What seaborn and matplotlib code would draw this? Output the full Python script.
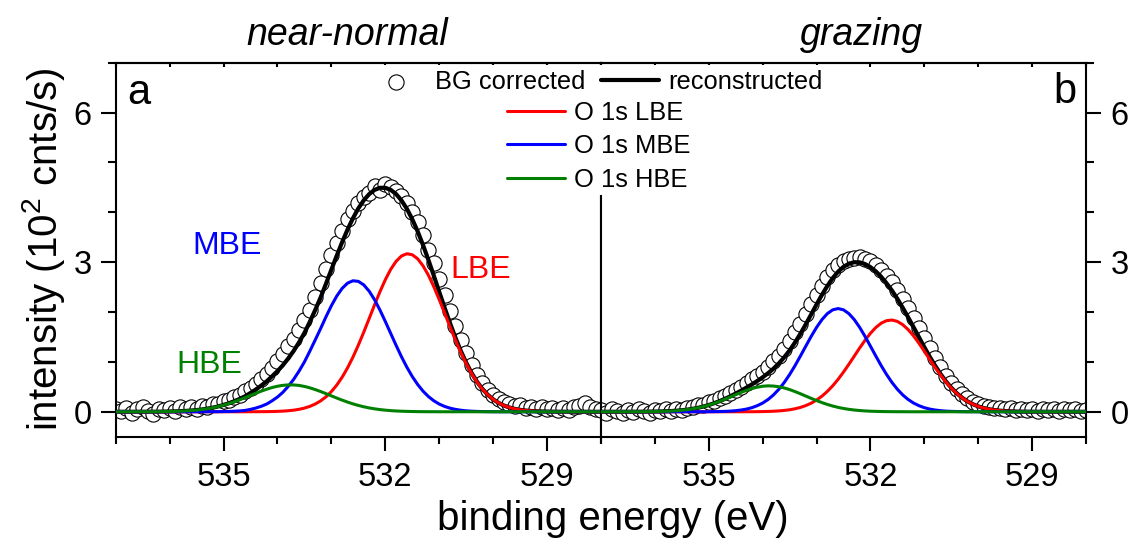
import numpy as np
import pandas as pd
import matplotlib
matplotlib.use("Agg")
import matplotlib.pyplot as plt
import seaborn as sns

# ---------------- data ----------------
# binding-energy grid (eV), 537.0 -> 528.0 in 0.1 eV steps (91 points)
energy = np.round(np.linspace(537.0, 528.0, 91), 1)

# panel a : near-normal
lbe_a = [0] * 25 + [
    0.001, 0.001, 0.002, 0.003, 0.005, 0.008, 0.013, 0.021, 0.032, 0.049,
    0.074, 0.108, 0.155, 0.218, 0.300, 0.405, 0.536, 0.694, 0.881, 1.096,
    1.337, 1.596, 1.868, 2.142, 2.406, 2.648, 2.856, 3.017, 3.124, 3.169,
    3.149, 3.067, 2.926, 2.736, 2.506, 2.249, 1.978, 1.704, 1.439, 1.190,
    0.964, 0.766, 0.596, 0.454, 0.339, 0.248, 0.178, 0.125, 0.086, 0.058,
    0.038, 0.025, 0.016, 0.010, 0.006, 0.004, 0.002, 0.001, 0.001] + [0] * 7
mbe_a = [0] * 17 + [
    0.001, 0.001, 0.002, 0.004, 0.006, 0.011, 0.017, 0.027, 0.048, 0.075,
    0.110, 0.155, 0.220, 0.295, 0.390, 0.510, 0.650, 0.815, 1.000, 1.215,
    1.440, 1.668, 1.905, 2.127, 2.321, 2.475, 2.580, 2.627, 2.615, 2.544,
    2.419, 2.248, 2.041, 1.811, 1.571, 1.332, 1.103, 0.893, 0.707, 0.547,
    0.413, 0.305, 0.220, 0.155, 0.107, 0.072, 0.048, 0.031, 0.019, 0.012,
    0.007, 0.004, 0.002, 0.001] + [0] * 20
hbe_a = [0] * 5 + [
    0.001, 0.001, 0.001, 0.002, 0.004, 0.006, 0.008, 0.012, 0.017, 0.025,
    0.034, 0.046, 0.062, 0.081, 0.105, 0.133, 0.165, 0.201, 0.241, 0.284,
    0.328, 0.371, 0.414, 0.452, 0.486, 0.512, 0.530, 0.539, 0.538, 0.528,
    0.508, 0.480, 0.445, 0.406, 0.363, 0.319, 0.275, 0.233, 0.194, 0.158,
    0.127, 0.100, 0.077, 0.059, 0.044, 0.032, 0.023, 0.016, 0.011, 0.008,
    0.005, 0.003, 0.002, 0.001, 0.001] + [0] * 31
recon_a = [0] * 5 + [
    0.001, 0.001, 0.001, 0.002, 0.004, 0.006, 0.008, 0.012, 0.017, 0.025,
    0.034, 0.046, 0.063, 0.082, 0.107, 0.137, 0.171, 0.212, 0.258, 0.311,
    0.377, 0.447, 0.526, 0.610, 0.711, 0.815, 0.933, 1.070, 1.220, 1.392,
    1.582, 1.803, 2.040, 2.292, 2.568, 2.851, 3.132, 3.402, 3.655, 3.881,
    4.079, 4.240, 4.364, 4.449, 4.491, 4.491, 4.450, 4.365, 4.238, 4.070,
    3.861, 3.617, 3.341, 3.042, 2.727, 2.404, 2.085, 1.776, 1.487, 1.221,
    0.983, 0.778, 0.603, 0.458, 0.341, 0.249, 0.178, 0.125, 0.086, 0.058,
    0.038, 0.025, 0.016, 0.010, 0.006, 0.004, 0.002, 0.001, 0.001] + [0] * 7
data_a = [0.06, 0.02, 0.08, -0.03, 0.05, 0.09, 0.01, -0.04, 0.06, 0.03,
          0.07, 0.02, 0.09, 0.05, 0.10, 0.06, 0.12, 0.10, 0.16, 0.15,
          0.21, 0.23, 0.30, 0.33, 0.41, 0.47, 0.56, 0.66, 0.76, 0.88,
          1.02, 1.15, 1.31, 1.45, 1.64, 1.85, 2.04, 2.30, 2.58, 2.86,
          3.15, 3.38, 3.62, 3.86, 4.02, 4.18, 4.30, 4.38, 4.52, 4.44,
          4.56, 4.50, 4.42, 4.33, 4.18, 4.00, 3.80, 3.55, 3.25, 2.98,
          2.66, 2.35, 2.02, 1.72, 1.43, 1.17, 0.93, 0.74, 0.57, 0.44,
          0.33, 0.25, 0.19, 0.15, 0.11, 0.13, 0.08, 0.10, 0.06, 0.09,
          0.05, 0.08, 0.03, 0.07, 0.04, 0.09, 0.12, 0.18, 0.10, 0.06, 0.04]

# panel b : grazing
lbe_b = [0] * 27 + [
    0.001, 0.001, 0.002, 0.004, 0.007, 0.011, 0.017, 0.027, 0.040, 0.060,
    0.087, 0.124, 0.172, 0.235, 0.313, 0.408, 0.521, 0.651, 0.796, 0.953,
    1.116, 1.279, 1.434, 1.574, 1.690, 1.777, 1.827, 1.840, 1.812, 1.746,
    1.647, 1.521, 1.374, 1.214, 1.050, 0.889, 0.737, 0.597, 0.474, 0.368,
    0.280, 0.208, 0.151, 0.108, 0.075, 0.051, 0.034, 0.022, 0.014, 0.009,
    0.005, 0.003, 0.002, 0.001] + [0] * 10
mbe_b = [0] * 19 + [
    0.001, 0.001, 0.003, 0.005, 0.008, 0.013, 0.022, 0.035, 0.054, 0.082,
    0.122, 0.175, 0.246, 0.337, 0.451, 0.587, 0.746, 0.924, 1.117, 1.315,
    1.511, 1.692, 1.848, 1.968, 2.044, 2.070, 2.044, 1.968, 1.848, 1.692,
    1.511, 1.315, 1.117, 0.924, 0.746, 0.587, 0.451, 0.337, 0.246, 0.175,
    0.122, 0.082, 0.054, 0.035, 0.022, 0.013, 0.008, 0.005, 0.003, 0.001,
    0.001] + [0] * 21
hbe_b = [0] * 6 + [
    0.001, 0.001, 0.002, 0.003, 0.004, 0.006, 0.010, 0.014, 0.021, 0.030,
    0.043, 0.059, 0.079, 0.104, 0.134, 0.169, 0.208, 0.251, 0.297, 0.343,
    0.388, 0.430, 0.466, 0.493, 0.512, 0.520, 0.516, 0.502, 0.478, 0.445,
    0.405, 0.361, 0.315, 0.269, 0.225, 0.184, 0.147, 0.115, 0.088, 0.066,
    0.049, 0.035, 0.025, 0.017, 0.011, 0.008, 0.005, 0.003, 0.002, 0.001,
    0.001] + [0] * 34
recon_b = [0] * 6 + [
    0.001, 0.001, 0.002, 0.003, 0.004, 0.006, 0.010, 0.014, 0.021, 0.030,
    0.043, 0.059, 0.079, 0.105, 0.135, 0.172, 0.213, 0.259, 0.310, 0.365,
    0.423, 0.485, 0.549, 0.617, 0.691, 0.773, 0.864, 0.970, 1.092, 1.231,
    1.389, 1.565, 1.754, 1.952, 2.152, 2.345, 2.523, 2.680, 2.809, 2.906,
    2.970, 2.999, 2.996, 2.962, 2.900, 2.815, 2.706, 2.576, 2.429, 2.264,
    2.084, 1.893, 1.696, 1.496, 1.296, 1.104, 0.924, 0.759, 0.610, 0.482,
    0.373, 0.283, 0.209, 0.152, 0.108, 0.075, 0.051, 0.034, 0.022, 0.014,
    0.009, 0.005, 0.003, 0.002, 0.001] + [0] * 10
data_b = [0.03, -0.02, 0.05, 0.01, -0.03, 0.04, 0.00, 0.06, 0.02, -0.02,
          0.04, 0.01, 0.05, 0.02, 0.06, 0.04, 0.08, 0.09, 0.13, 0.14,
          0.19, 0.22, 0.27, 0.32, 0.38, 0.43, 0.50, 0.57, 0.65, 0.72,
          0.80, 0.90, 1.01, 1.12, 1.26, 1.42, 1.60, 1.77, 1.96, 2.16,
          2.35, 2.53, 2.70, 2.84, 2.94, 3.02, 3.06, 3.08, 3.10, 3.07,
          3.02, 2.95, 2.84, 2.73, 2.60, 2.44, 2.27, 2.08, 1.89, 1.68,
          1.47, 1.27, 1.07, 0.89, 0.72, 0.58, 0.45, 0.35, 0.27, 0.20,
          0.15, 0.12, 0.09, 0.07, 0.08, 0.05, 0.07, 0.04, 0.06, 0.03,
          0.05, 0.02, 0.06, 0.03, 0.05, 0.02, 0.06, 0.03, 0.05, 0.02, 0.04]

x_major = [535, 532, 529]
x_minor = [537, 536, 534, 533, 531, 530, 528]
y_major = [0, 3, 6]
y_minor = [1, 2, 4, 5, 7]

titles = ["near-normal", "grazing"]
panel_letters = ["a", "b"]
legend_labels = ["BG corrected", "reconstructed", "O 1s LBE", "O 1s MBE", "O 1s HBE"]

# ---------------- style ----------------
sns.set_style("ticks")
plt.rcParams["font.family"] = ["Liberation Sans", "DejaVu Sans"]
plt.rcParams["mathtext.fontset"] = "custom"
plt.rcParams["mathtext.rm"] = "Liberation Sans"
plt.rcParams["mathtext.it"] = "Liberation Sans:italic"
plt.rcParams["axes.edgecolor"] = "black"
plt.rcParams["xtick.color"] = "black"
plt.rcParams["ytick.color"] = "black"
plt.rcParams["text.color"] = "black"
plt.rcParams["axes.linewidth"] = 1.5

W, H = 1132, 540
fig = plt.figure(figsize=(W / 100, H / 100), dpi=100)
left_px, mid_px, right_px = 115.7, 601.0, 1086.0
top_px, bot_px = 62.7, 436.7
b = 1 - bot_px / H
h = (bot_px - top_px) / H
ax1 = fig.add_axes([left_px / W, b, (mid_px - left_px) / W, h])
ax2 = fig.add_axes([mid_px / W, b, (right_px - mid_px) / W, h])

RED, BLUE, GREEN = "#FF0000", "#0000FF", "#008000"
LW_FIT, LW_COMP = 3.0, 2.2

panels = [(ax1, data_a, recon_a, lbe_a, mbe_a, hbe_a),
          (ax2, data_b, recon_b, lbe_b, mbe_b, hbe_b)]

for ax, dat, rec, lbe, mbe, hbe in panels:
    df = pd.DataFrame({"E": energy, "data": dat, "rec": rec, "lbe": lbe, "mbe": mbe, "hbe": hbe})
    sns.scatterplot(data=df, x="E", y="data", ax=ax, marker="o", s=120, color="white",
                    edgecolor="black", linewidth=0.8, legend=False, label=legend_labels[0], zorder=2)
    sns.lineplot(data=df, x="E", y="rec", ax=ax, color="black", linewidth=LW_FIT, legend=False,
                 label=legend_labels[1], zorder=3)
    sns.lineplot(data=df, x="E", y="lbe", ax=ax, color=RED, linewidth=LW_COMP, legend=False,
                 label=legend_labels[2], zorder=4)
    sns.lineplot(data=df, x="E", y="mbe", ax=ax, color=BLUE, linewidth=LW_COMP, legend=False,
                 label=legend_labels[3], zorder=4)
    sns.lineplot(data=df, x="E", y="hbe", ax=ax, color=GREEN, linewidth=LW_COMP, legend=False,
                 label=legend_labels[4], zorder=5)
    ax.set_xlim(537, 528)
    ax.set_ylim(-0.5, 7)
    ax.set_xlabel("")
    ax.set_ylabel("")
    ax.set_xticks(x_major)
    ax.set_xticks(x_minor, minor=True)
    ax.set_yticks(y_major)
    ax.set_yticks(y_minor, minor=True)
    ax.tick_params(axis="x", which="major", direction="out", length=10, width=1.5,
                   labelsize=23.5, pad=8.5, top=False)
    ax.tick_params(axis="x", which="minor", direction="out", length=5, width=1.5, top=False)
    for s in ax.spines.values():
        s.set_linewidth(1.5)
        s.set_color("black")
    # short inward ticks along the top edge
    sec = ax.secondary_xaxis("top")
    sec.set_xticks(x_major)
    sec.set_xticks(x_minor, minor=True)
    sec.tick_params(axis="x", which="both", direction="in", length=3, width=1.5, labeltop=False)
    sec.spines["top"].set_linewidth(1.5)

ax1.tick_params(axis="y", which="major", direction="out", length=10.5, width=1.5,
                labelsize=23.5, pad=7, left=True, right=False)
ax1.tick_params(axis="y", which="minor", direction="out", length=5.5, width=1.5, left=True, right=False)
ax2.yaxis.tick_right()
ax2.tick_params(axis="y", which="major", direction="out", length=10.5, width=1.5,
                labelsize=23.5, pad=7, left=False, right=True, labelleft=False, labelright=True)
ax2.tick_params(axis="y", which="minor", direction="out", length=5.5, width=1.5, left=False, right=True)

# component labels in panel a
ax1.text(534.93, 3.17, "MBE", color=BLUE, fontsize=23, ha="center", va="baseline")
ax1.text(530.23, 2.68, "LBE", color=RED, fontsize=23, ha="center", va="baseline")
ax1.text(535.27, 0.77, "HBE", color=GREEN, fontsize=23, ha="center", va="baseline")

# panel letters
ax1.text(0.0245, 0.8896, panel_letters[0], transform=ax1.transAxes, fontsize=30,
         ha="left", va="baseline")
ax2.text(0.9795, 0.8923, panel_letters[1], transform=ax2.transAxes, fontsize=30,
         ha="right", va="baseline")

# titles
fig.text(347 / W, 1 - 45 / H, titles[0], style="italic", fontsize=27,
         ha="center", va="baseline")
fig.text(861 / W, 1 - 45 / H, titles[1], style="italic", fontsize=27,
         ha="center", va="baseline")

# axis labels
fig.text(613 / W, 1 - 530 / H, "binding energy (eV)", fontsize=29, ha="center", va="baseline")
fig.text(57.5 / W, 1 - 249.7 / H, r"intensity (10$^{2}$ cnts/s)", fontsize=29, rotation=90,
         rotation_mode="anchor", ha="center", va="baseline")

# legends
handles, labels = ax1.get_legend_handles_labels()
hd = dict(zip(labels, handles))
common = dict(frameon=True, facecolor="white", edgecolor="none", framealpha=1, fancybox=False,
              borderaxespad=0, handlelength=2.3, handletextpad=0.35, fontsize=18.4,
              scatterpoints=1, bbox_transform=fig.transFigure, loc="upper left")
leg1 = fig.legend([hd[legend_labels[0]], hd[legend_labels[1]]], legend_labels[:2], ncol=2,
                  columnspacing=0.6, borderpad=0.2,
                  bbox_to_anchor=(362 / W, 1 - 65 / H), **common)
leg2 = fig.legend([hd[l] for l in legend_labels[2:]], legend_labels[2:], ncol=1,
                  labelspacing=0.38, borderpad=0.1,
                  bbox_to_anchor=(504 / W, 1 - 98 / H), **common)

fig.savefig("out.png", dpi=100)
